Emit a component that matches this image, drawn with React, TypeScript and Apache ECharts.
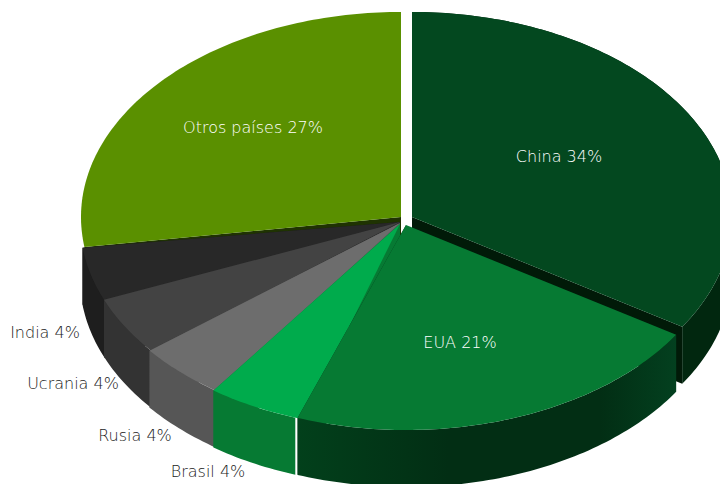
import React, { useEffect, useRef } from "react";
import * as echarts from "echarts";

// Labelled percentages, in clockwise order from twelve o'clock
const categories = ["China", "EUA", "Brasil", "Rusia", "Ucrania", "India", "Otros países"];
const labelValues = [34, 21, 4, 4, 4, 4, 27];
// Width of each slice as seen in the picture (the labels are rounded)
const sliceShares = [34, 21.5, 4.4, 4.4, 4.5, 4.2, 27];

// Styling and layout, per slice
const topColors = ["#03481f", "#067a33", "#00ab4c", "#6d6d6d", "#434343", "#282828", "#5a9000"];
const rimColors = ["#01270f", "#03341a", "#067a33", "#565656", "#333333", "#1e1e1e", "#3f6600"];
const cutColors = ["#011a08", "#03341a", "#067a33", "#565656", "#2a2a2a", "#1a1a1a", "#1f3302"];
const centersX = [412, 406, 400, 400, 400, 400, 401];
const centersY = [217, 225, 224, 223, 222, 222, 217];
const drawOrder = [1, 7, 6, 5, 4, 3, 2];
const showRim = [true, true, true, true, true, true, false];
const cutAtStart = [false, false, false, false, false, false, true];
const topOverlap = [0, 0, 2.2, 0.5, 0.5, 0.5, 1.2];
const rimOverlap = [0, 0, 0.7, 0.5, 0.5, 0.5, 0];
const labelX = [559, 460, 208, 135, 73, 45, 253];
const labelY = [156, 342, 471, 435, 383, 332, 127];
const labelInside = [true, true, false, false, false, false, true];

const RX = 320;
const RY = 205;
const DEPTH = 57;
const START_ANGLE = 90;

function arcPoints(cx: number, cy: number, from: number, to: number) {
  const pts: number[][] = [];
  const steps = Math.max(2, Math.ceil(Math.abs(to - from)));
  for (let i = 0; i <= steps; i++) {
    const a = ((from + ((to - from) * i) / steps) * Math.PI) / 180;
    pts.push([cx + RX * Math.cos(a), cy - RY * Math.sin(a)]);
  }
  return pts;
}

export default function App() {
  const ref = useRef<HTMLDivElement>(null);
  useEffect(() => {
    const chart = echarts.init(ref.current!, null, { renderer: "svg" });
    const total = sliceShares.reduce((s, v) => s + v, 0);
    const euaRim = new echarts.graphic.LinearGradient(0, 0, 1, 0, [
      { offset: 0, color: "#02401b" },
      { offset: 0.4, color: "#022e14" },
      { offset: 0.8, color: "#022e14" },
      { offset: 1, color: "#03401f" },
    ]);
    chart.setOption({
      animation: false,
      backgroundColor: "#ffffff",
      series: [
        {
          type: "custom",
          coordinateSystem: "none",
          silent: true,
          data: sliceShares.map((s, i) => [s, labelValues[i]]),
          renderItem: (params: any, api: any) => {
            const i = params.dataIndex;
            let before = 0;
            for (let k = 0; k < i; k++) before += sliceShares[k];
            const from = START_ANGLE - (before / total) * 360;
            const to = from - (Number(api.value(0)) / total) * 360;
            const cx = centersX[i];
            const cy = centersY[i];
            const arc = arcPoints(cx, cy, from + rimOverlap[i], to);
            const topArc = arcPoints(cx, cy, from + topOverlap[i], to);
            const z = drawOrder[i] * 10;
            const children: any[] = [];
            const edge = cutAtStart[i] ? topArc[0] : arc[arc.length - 1];
            children.push({
              type: "polygon",
              z2: z,
              shape: {
                points: [[cx, cy], edge, [edge[0], edge[1] + DEPTH], [cx, cy + DEPTH]],
              },
              style: { fill: cutColors[i] },
            });
            if (showRim[i]) {
              const lower = arc.map((p) => [p[0], p[1] + DEPTH]).reverse();
              children.push({
                type: "polygon",
                z2: z + 1,
                shape: { points: [...arc, ...lower] },
                style: { fill: i === 1 ? euaRim : rimColors[i] },
              });
            }
            children.push({
              type: "polygon",
              z2: z + 2,
              shape: { points: [[cx, cy], ...topArc] },
              style: { fill: topColors[i] },
            });
            children.push({
              type: "text",
              z2: 200,
              x: labelX[i],
              y: labelY[i],
              style: {
                text: `${categories[i]} ${api.value(1)}%`,
                fill: labelInside[i] ? "#ffffff" : "#1a1a1a",
                font: "200 16px 'DejaVu Sans'",
                align: "center",
                verticalAlign: "middle",
              },
            });
            return { type: "group", children };
          },
        },
      ],
    });
    return () => chart.dispose();
  }, []);
  return (
    <div
      ref={ref}
      style={{ position: "fixed", left: 0, top: 0, width: 720, height: 484 }}
    />
  );
}
